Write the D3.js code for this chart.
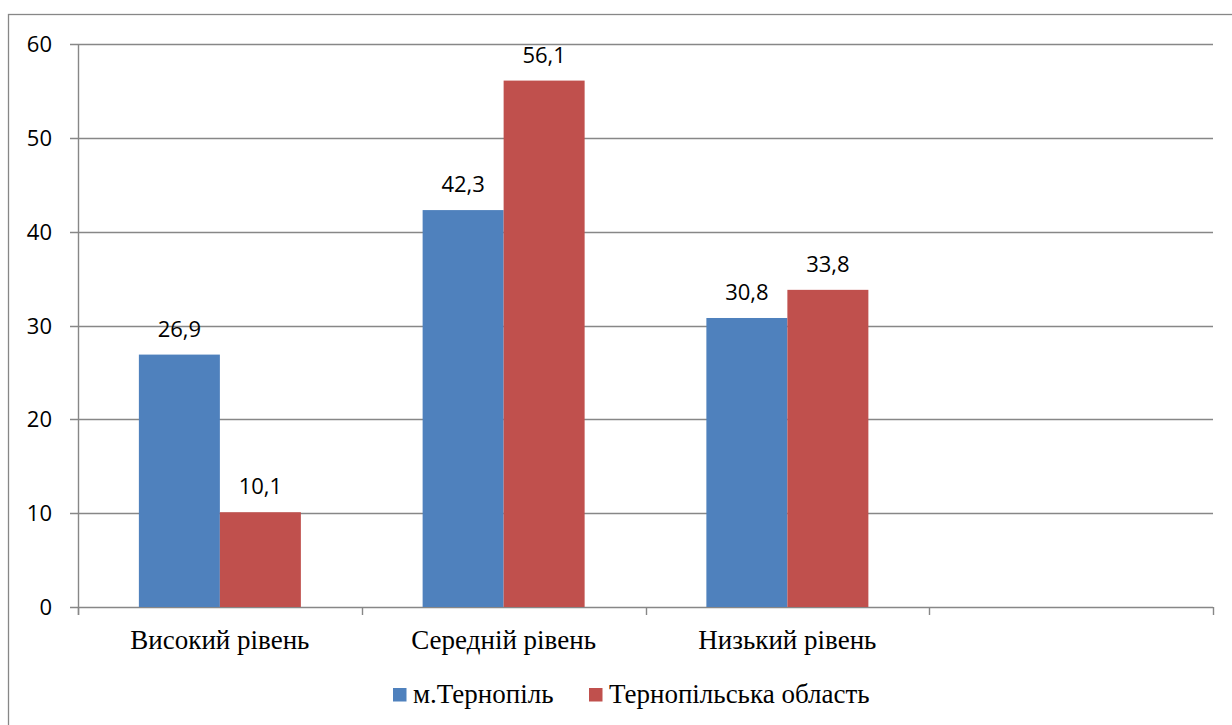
<!DOCTYPE html>
<html><head><meta charset="utf-8">
<script src="https://cdn.jsdelivr.net/npm/d3@7"></script>
<style>body{margin:0;background:#fff;} svg{display:block;}</style>
</head><body>
<svg id="chart" width="1232" height="725"></svg>
<script>
const categories = ["Високий рівень", "Середній рівень", "Низький рівень", ""];
const seriesNames = ["м.Тернопіль", "Тернопільська область"];
const seriesTernopil = [26.9, 42.3, 30.8, null];
const seriesOblast = [10.1, 56.1, 33.8, null];
const yTicks = [0, 10, 20, 30, 40, 50, 60];
const colors = ["#4F81BD", "#C0504D"];

const svg = d3.select("#chart");
const L = 78, R = 1213, T = 44, B = 607;
const gray = "#878787";
const sans = "'Open Sans', 'Liberation Sans', sans-serif";
const serif = "'Liberation Serif', 'Times New Roman', serif";

// outer frame
svg.append("rect").attr("x", 8.5).attr("y", 14.5).attr("width", 1240).attr("height", 720)
  .attr("fill", "none").attr("stroke", gray).attr("stroke-width", 1.3);

const x0 = d3.scaleBand().domain(d3.range(categories.length)).range([L, R]).padding(0);
const barW = 81;
const x1 = d3.scaleBand().domain([0, 1]).range([0, barW * 2]);
const off = (x0.bandwidth() - barW * 2) / 2;
const y = d3.scaleLinear().domain([0, 60]).range([B, T]);

// gridlines
svg.append("g").selectAll("line").data(yTicks).join("line")
  .attr("x1", L - 8).attr("x2", R).attr("y1", d => Math.round(y(d)) + 0.5).attr("y2", d => Math.round(y(d)) + 0.5)
  .attr("stroke", gray).attr("stroke-width", 1.4);

// y axis line
svg.append("line").attr("x1", L + 0.5).attr("x2", L + 0.5).attr("y1", T).attr("y2", B + 8)
  .attr("stroke", gray).attr("stroke-width", 1.4);

// x ticks
const xt = categories.map((c, i) => x0(i)).concat([R]);
svg.append("g").selectAll("line").data(xt).join("line")
  .attr("x1", d => Math.round(d) + 0.5).attr("x2", d => Math.round(d) + 0.5).attr("y1", B).attr("y2", B + 8)
  .attr("stroke", gray).attr("stroke-width", 1.4);

// y labels
svg.append("g").selectAll("text").data(yTicks).join("text")
  .attr("x", 52).attr("y", d => y(d) + 8)
  .attr("text-anchor", "end")
  .attr("font-family", sans).attr("font-size", 22).attr("fill", "#000")
  .text(d => d);

const series = [seriesTernopil, seriesOblast];
series.forEach((vals, s) => {
  const g = svg.append("g");
  const data = vals.map((v, i) => ({v, i})).filter(d => d.v != null);
  g.selectAll("rect").data(data).join("rect")
    .attr("x", d => x0(d.i) + off + x1(s)).attr("width", barW)
    .attr("y", d => y(d.v)).attr("height", d => B - y(d.v))
    .attr("fill", colors[s]);
  g.selectAll("text").data(data).join("text")
    .attr("x", d => x0(d.i) + off + x1(s) + barW / 2).attr("y", d => y(d.v) - 18)
    .attr("text-anchor", "middle")
    .attr("font-family", sans).attr("font-size", 22).attr("fill", "#000")
    .text(d => String(d.v).replace(".", ","));
});

// category labels
svg.append("g").selectAll("text").data(categories).join("text")
  .attr("x", (d, i) => x0(i) + x0.bandwidth() / 2).attr("y", 649).attr("text-anchor", "middle")
  .attr("font-family", serif).attr("font-size", 27).attr("fill", "#000")
  .text(d => d);

// legend
const legX = [393, 589];
seriesNames.forEach((n, i) => {
  svg.append("rect").attr("x", legX[i]).attr("y", 688).attr("width", 13.5).attr("height", 13.5).attr("fill", colors[i]);
  svg.append("text").attr("x", legX[i] + 20).attr("y", 703)
    .attr("font-family", serif).attr("font-size", 27).attr("fill", "#000")
    .text(n);
});
</script>
</body></html>
